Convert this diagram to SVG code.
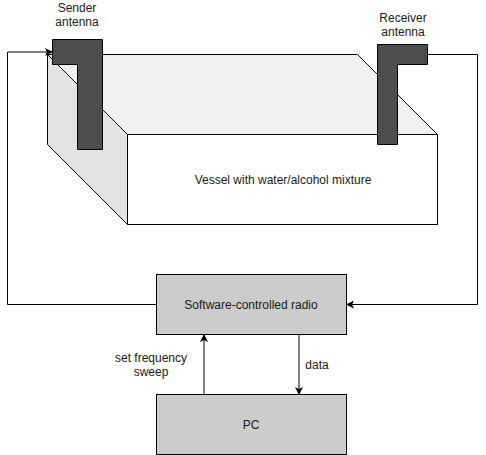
<svg xmlns="http://www.w3.org/2000/svg" width="486" height="455" viewBox="0 0 486 455">
<style>
.s{stroke:#000;stroke-width:1;stroke-linejoin:miter}
.t{font-family:"Liberation Sans",Arial,sans-serif;font-size:12px;fill:#1a1a1a;text-anchor:middle}
.c{fill:none;stroke:#000;stroke-width:1}
.box{fill:#cccccc}
.ant{fill:#4d4d4d}
</style>
<defs>
<marker id="a" viewBox="0 0 8 8" refX="7" refY="4" markerWidth="8" markerHeight="8" markerUnits="userSpaceOnUse" orient="auto">
<path d="M0 0L8 4L0 8L2 4Z" fill="#000"/>
</marker>
</defs>
<rect width="486" height="455" fill="#fff"/>
<g id="vessel">
<path class="s" d="M47.5 54.5H357.5L437.5 134.5H127.5Z" fill="#f0f0f0"/>
<path class="s" d="M47.5 54.5L127.5 134.5V224.5L47.5 144.5Z" fill="#e3e3e3"/>
<rect class="s" x="127.5" y="134.5" width="310" height="90" fill="#fff"/>
<text class="t" x="283" y="184">Vessel with water/alcohol mixture</text>
</g>
<g id="connectors">
<path class="c" d="M156.5 304.5H7.5V52H52" marker-end="url(#a)"/>
<path class="c" d="M427.5 54.5H477.5V304.5H347" marker-end="url(#a)"/>
<path class="c" d="M204 394.5V335" marker-end="url(#a)"/>
<path class="c" d="M299 334.5V394" marker-end="url(#a)"/>
</g>
<g id="sender-antenna">
<path class="s ant" d="M52.5 39.5H102.5V149.5H77.5V64.5H52.5Z"/>
<text class="t" x="77" y="12">Sender</text>
<text class="t" x="77" y="26">antenna</text>
</g>
<g id="receiver-antenna">
<path class="s ant" d="M377.5 44.5H427.5V64.5H397.5V144.5H377.5Z"/>
<text class="t" x="403" y="22">Receiver</text>
<text class="t" x="403" y="36">antenna</text>
</g>
<g id="radio">
<rect class="s box" x="156.5" y="274.5" width="190" height="60"/>
<text class="t" x="251" y="309">Software-controlled radio</text>
</g>
<g id="pc">
<rect class="s box" x="156.5" y="394.5" width="190" height="60"/>
<text class="t" x="251" y="429">PC</text>
</g>
<g id="labels">
<text class="t" x="151" y="362">set frequency</text>
<text class="t" x="151" y="376">sweep</text>
<text class="t" x="317" y="369">data</text>
</g>
</svg>
